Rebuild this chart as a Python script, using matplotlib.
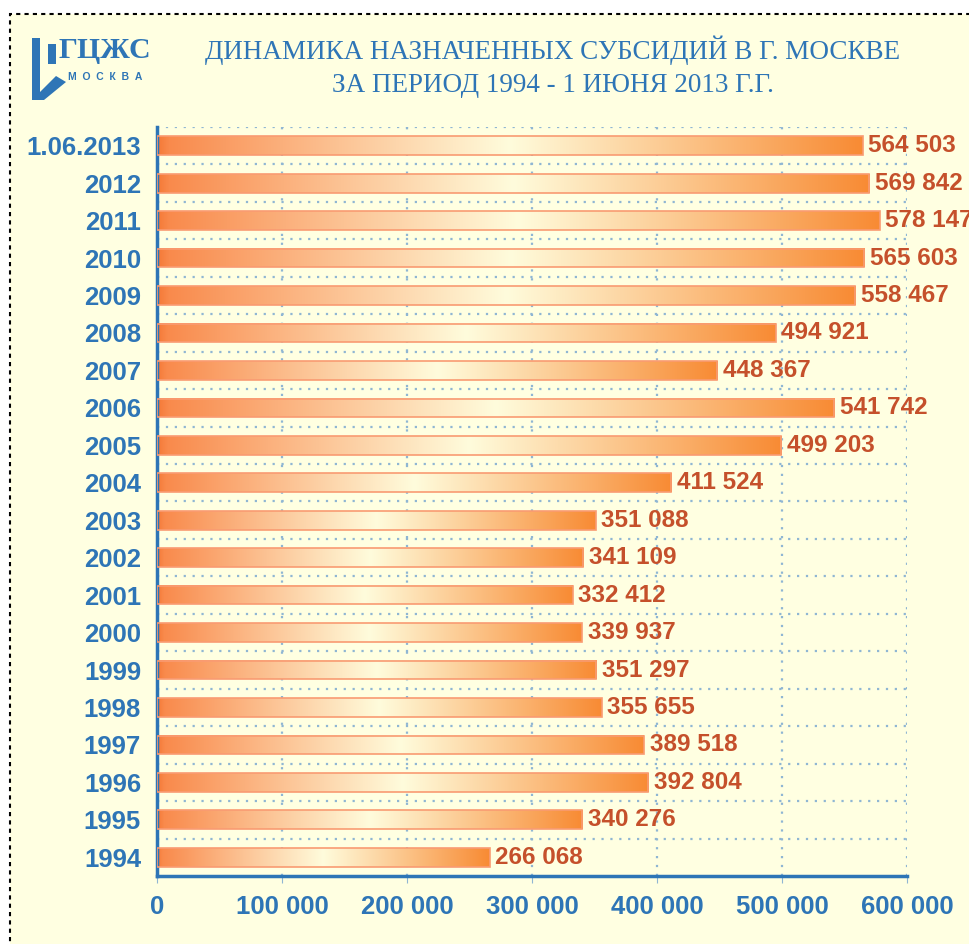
import matplotlib.pyplot as plt
import numpy as np
from matplotlib.colors import LinearSegmentedColormap
from matplotlib.patches import Rectangle, Polygon

years = ['1994', '1995', '1996', '1997', '1998', '1999', '2000', '2001', '2002', '2003',
         '2004', '2005', '2006', '2007', '2008', '2009', '2010', '2011', '2012', '1.06.2013']
values = [266068, 340276, 392804, 389518, 355655, 351297, 339937, 332412, 341109, 351088,
          411524, 499203, 541742, 448367, 494921, 558467, 565603, 578147, 569842, 564503]
xticks = [0, 100000, 200000, 300000, 400000, 500000, 600000]

blue = '#2E75B6'
lab_col = '#C5502B'
bg = '#FFFFE1'

def fmt(v):
    return '{:,}'.format(v).replace(',', ' ')

fig = plt.figure(figsize=(9.7, 9.44), dpi=100)
fig.patch.set_facecolor('white')
fig.patches.append(Rectangle((10 / 970, -0.1), 1.2, 1.1 - 14 / 944, transform=fig.transFigure,
                             facecolor=bg, edgecolor='black', linestyle=(0, (2, 2)),
                             linewidth=1.5, zorder=-5))

ax = fig.add_axes([157 / 970, 1 - 876 / 944, 750 / 970, 749 / 944])
ax.set_facecolor('none')
ax.set_zorder(2)

cmap = LinearSegmentedColormap.from_list('bar', [(0, '#F57A38'), (0.015, '#F98A4C'),
                                                 (0.5, '#FFFCDC'), (1, '#F88B34')])
grad = np.linspace(0, 1, 256).reshape(1, -1)
h = 0.5
for i, v in enumerate(values):
    ax.imshow(grad, cmap=cmap, extent=(0, v, i - h / 2, i + h / 2), aspect='auto',
              interpolation='bilinear', zorder=2)
    ax.add_patch(Rectangle((0, i - h / 2), v, h, facecolor='none', edgecolor='#F99B72',
                           linewidth=1.2, zorder=3))
    ax.text(v + 4500, i, fmt(v), color=lab_col, fontsize=17.5, fontweight='bold',
            family='Liberation Sans', va='center', ha='left', zorder=4, clip_on=False)

ax.set_xlim(0, 600000)
ax.set_ylim(-0.5, len(values) - 0.5)

for x in xticks[1:]:
    ax.axvline(x, color='#8FB6D3', linestyle=(0, (1, 3)), linewidth=1.6, zorder=1)
for b in np.arange(0.5, len(values), 1):
    ax.axhline(b, color='#8FB6D3', linestyle=(0, (1, 3)), linewidth=1.6, zorder=1)

ax.set_xticks(xticks)
ax.set_xticklabels([fmt(x) for x in xticks])
ax.set_yticks(range(len(years)))
ax.set_yticklabels(years)
for lbl in ax.get_xticklabels() + ax.get_yticklabels():
    lbl.set_fontweight('bold')
    lbl.set_fontsize(18.5)
    lbl.set_color(blue)
    lbl.set_family('Liberation Sans')
ax.tick_params(axis='x', length=5, color='#8FB6D3', pad=9)
ax.tick_params(axis='y', length=0, pad=11.5)

for s in ['top', 'right']:
    ax.spines[s].set_visible(False)
for s in ['left', 'bottom']:
    ax.spines[s].set_color(blue)
    ax.spines[s].set_linewidth(2.5)

fig.text(553 / 970, 1 - 50 / 944, 'ДИНАМИКА НАЗНАЧЕННЫХ СУБСИДИЙ В Г. МОСКВЕ',
         family='Liberation Serif', fontsize=19.5, color=blue, ha='center', va='center')
fig.text(553 / 970, 1 - 86 / 944, 'ЗА ПЕРИОД 1994 - 1 ИЮНЯ 2013 Г.Г.',
         family='Liberation Serif', fontsize=19.5, color=blue, ha='center', va='center')

# logo
fig.text(59 / 970, 1 - 50 / 944, 'ГЦЖС', family='Liberation Serif', fontweight='bold',
         fontsize=21.5, color=blue, ha='left', va='center')
fig.text(68 / 970, 1 - 77 / 944, 'М  О  С  К  В  А', family='Liberation Sans', fontweight='bold',
         fontsize=7.5, color=blue, ha='left', va='center')
logo = [(32, 38), (40, 38), (40, 92), (56, 76), (66, 82), (44, 100), (32, 100)]
fig.patches.append(Polygon([(x / 970, 1 - y / 944) for x, y in logo], closed=True,
                           transform=fig.transFigure, facecolor=blue, edgecolor='none'))
fig.patches.append(Rectangle((48 / 970, 1 - 64 / 944), 8 / 970, 20 / 944,
                             transform=fig.transFigure, facecolor=blue, edgecolor='none'))

fig.savefig('out.png', dpi=100)
